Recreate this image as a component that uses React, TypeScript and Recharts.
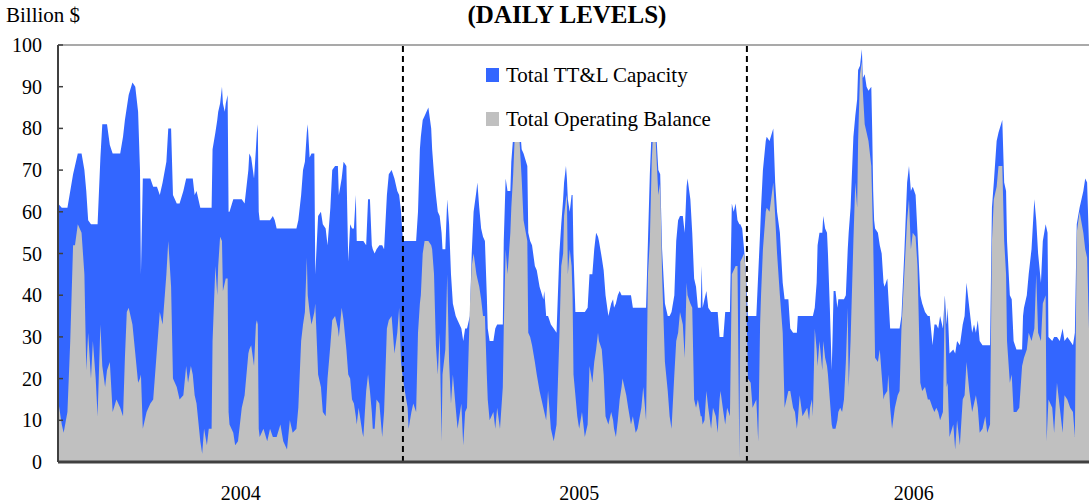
import { AreaChart, Area, XAxis, YAxis, ReferenceLine } from "recharts";

// calendar day since 1 Jan 2004 for each reading
const days = [
  0, 4, 6, 10, 13, 16, 18, 21, 25, 28, 30, 32, 35, 37, 40, 42, 45, 47, 50, 52,
  55, 58, 62, 66, 69, 71, 73, 75, 79, 82, 85, 87, 88, 90, 94, 98, 101, 105, 108, 111,
  115, 117, 120, 122, 126, 129, 133, 136, 138, 141, 143, 145, 147, 151, 153, 155, 158, 160, 163, 164,
  167, 169, 170, 172, 174, 175, 177, 178, 180, 181, 182, 186, 188, 191, 195, 198, 202, 203, 205, 208,
  210, 211, 212, 213, 214, 218, 222, 225, 228, 230, 232, 236, 239, 243, 246, 249, 253, 255, 258, 260,
  262, 264, 265, 267, 269, 272, 273, 276, 279, 281, 284, 286, 289, 291, 294, 297, 298, 301, 303, 306,
  308, 310, 312, 314, 316, 317, 319, 323, 324, 327, 329, 331, 333, 334, 336, 338, 341, 344, 346, 349,
  351, 354, 357, 360, 362, 364, 366, 368, 371, 372, 375, 377, 380, 382, 384, 385, 387, 389, 393, 396,
  397, 399, 401, 403, 405, 407, 408, 411, 413, 415, 417, 419, 422, 424, 428, 430, 432, 434, 437, 439,
  441, 444, 445, 447, 449, 451, 453, 455, 456, 458, 462, 464, 466, 469, 472, 473, 475, 477, 480, 481,
  483, 485, 487, 489, 491, 492, 494, 498, 499, 501, 503, 506, 508, 511, 515, 516, 518, 520, 523, 526,
  529, 532, 534, 536, 537, 539, 540, 541, 543, 545, 546, 547, 549, 551, 553, 556, 559, 562, 564, 567,
  569, 571, 573, 574, 577, 579, 581, 584, 587, 589, 590, 592, 594, 596, 598, 599, 603, 605, 608, 610,
  613, 615, 619, 621, 624, 626, 628, 630, 632, 634, 637, 639, 641, 644, 647, 649, 651, 654, 656, 658,
  660, 663, 665, 667, 668, 671, 673, 675, 677, 679, 682, 683, 684, 686, 688, 690, 693, 695, 698, 700,
  702, 703, 706, 708, 710, 713, 715, 717, 719, 721, 723, 724, 726, 728, 730, 732, 735, 737, 741, 743,
  745, 746, 748, 751, 752, 755, 759, 761, 763, 766, 769, 771, 775, 777, 780, 782, 784, 785, 787, 790,
  795, 797, 798, 800, 801, 803, 805, 806, 808, 811, 812, 814, 816, 817, 819, 821, 822, 823, 825, 827,
  828, 830, 832, 834, 836, 838, 839, 841, 844, 846, 848, 849, 851, 853, 854, 856, 858, 860, 863, 864,
  865, 866, 867, 870, 872, 874, 876, 877, 880, 881, 883, 885, 888, 891, 893, 895, 898, 901, 903, 905,
  907, 910, 912, 915, 917, 920, 923, 925, 928, 930, 932, 934, 936, 939, 941, 943, 944, 946, 950, 952,
  954, 957, 960, 962, 964, 967, 970, 972, 974, 976, 978, 981, 984, 986, 989, 991, 993, 996, 998, 1002,
  1004, 1006, 1007, 1010, 1012, 1014, 1017, 1020, 1023, 1024, 1025, 1028, 1030, 1033, 1036, 1038, 1040, 1043, 1045, 1048,
  1049, 1050, 1051, 1055, 1057, 1060, 1063, 1066, 1068, 1071, 1074, 1077, 1079, 1081, 1084, 1088, 1090, 1092, 1094,
];

const capacity = [
  62, 61, 61, 61, 65, 69, 71, 74, 74, 70, 65, 58, 57, 57, 57, 57, 73, 81, 81, 81,
  76, 74, 74, 74, 78, 82, 85, 88, 91, 90, 84, 70, 45, 68, 68, 68, 66, 66, 64, 67,
  72, 80, 80, 64, 62, 62, 65, 68, 68, 68, 68, 64, 65, 61, 61, 61, 61, 61, 61, 75,
  79, 82, 84, 86, 90, 86, 84, 86, 88, 60, 60, 63, 63, 63, 63, 62, 70, 74, 73, 68,
  75, 79, 81, 60, 58, 58, 58, 58, 59, 58, 56, 56, 56, 56, 56, 56, 56, 58, 64, 70,
  72, 79, 81, 73, 74, 74, 45, 59, 60, 57, 56, 52, 61, 70, 71, 71, 64, 68, 72, 71,
  48, 57, 56, 56, 64, 53, 53, 53, 53, 52, 63, 63, 52, 51, 50, 51, 52, 52, 51, 64,
  69, 70, 68, 65, 64, 60, 53, 53, 53, 53, 53, 53, 53, 60, 75, 78, 82, 83, 85, 80,
  75, 69, 64, 60, 59, 55, 51, 51, 63, 57, 45, 38, 35, 34, 32, 29, 32, 32, 35, 50,
  60, 65, 67, 61, 56, 54, 53, 40, 32, 29, 29, 32, 33, 33, 33, 53, 68, 65, 65, 72,
  78, 84, 86, 84, 78, 75, 74, 71, 55, 53, 52, 47, 46, 42, 39, 41, 35, 35, 33, 32,
  31, 50, 57, 63, 67, 71, 68, 63, 60, 64, 64, 50, 36, 36, 36, 36, 36, 37, 45, 45,
  51, 55, 54, 53, 49, 46, 40, 35, 38, 39, 37, 38, 40, 41, 40, 40, 40, 40, 40, 37,
  37, 37, 37, 37, 37, 53, 69, 80, 84, 82, 70, 69, 51, 38, 35, 35, 36, 40, 53, 58,
  59, 59, 55, 66, 68, 63, 55, 44, 42, 37, 37, 47, 37, 39, 41, 37, 36, 36, 36, 36,
  30, 30, 30, 36, 36, 36, 62, 60, 62, 58, 57, 57, 56, 51, 45, 35, 35, 35, 35, 45,
  55, 61, 70, 77, 78, 77, 80, 67, 60, 55, 43, 39, 39, 32, 31, 31, 31, 35, 35, 35,
  35, 35, 35, 35, 35, 37, 43, 52, 55, 55, 59, 56, 55, 50, 37, 22, 31, 41, 41, 37,
  39, 39, 39, 39, 40, 51, 55, 61, 78, 83, 87, 94, 95, 99, 92, 93, 90, 89, 90, 79,
  65, 58, 56, 55, 52, 50, 43, 42, 44, 40, 32, 32, 32, 32, 32, 35, 50, 67, 71, 65,
  66, 64, 55, 40, 38, 36, 35, 35, 28, 33, 33, 32, 35, 32, 40, 33, 37, 26, 27, 26,
  29, 28, 33, 35, 43, 37, 31, 33, 31, 34, 29, 28, 28, 28, 28, 61, 67, 77, 79, 82,
  67, 65, 53, 40, 39, 29, 27, 27, 27, 35, 37, 40, 45, 51, 63, 58, 50, 43, 53, 57,
  56, 55, 30, 29, 30, 30, 29, 32, 29, 30, 29, 28, 31, 57, 61, 65, 68, 67, 52,
];

const balance = [
  15, 9, 7, 12, 29, 52, 52, 57, 55, 45, 22, 31, 20, 29, 20, 11, 33, 23, 18, 22,
  24, 12, 15, 13, 11, 25, 36, 37, 33, 26, 19, 20, 21, 8, 12, 14, 15, 27, 36, 33,
  45, 53, 42, 20, 18, 15, 16, 23, 19, 23, 21, 16, 14, 5, 2, 8, 4, 8, 8, 29,
  47, 40, 47, 54, 53, 41, 43, 44, 44, 12, 9, 7, 4, 5, 13, 16, 26, 27, 28, 23,
  33, 34, 33, 8, 6, 8, 5, 8, 6, 6, 6, 9, 5, 3, 10, 7, 8, 13, 29, 33,
  36, 49, 40, 36, 33, 36, 38, 21, 18, 12, 11, 20, 28, 34, 35, 32, 30, 37, 34, 27,
  21, 20, 15, 14, 11, 9, 13, 7, 6, 17, 21, 17, 12, 8, 8, 15, 14, 6, 12, 32,
  34, 35, 26, 31, 37, 24, 20, 17, 13, 8, 12, 14, 12, 31, 38, 40, 50, 53, 53, 52,
  51, 45, 28, 21, 31, 5, 21, 27, 45, 24, 14, 21, 13, 8, 14, 4, 12, 13, 37, 47,
  50, 45, 44, 42, 39, 35, 35, 21, 15, 10, 12, 8, 13, 8, 18, 32, 51, 45, 55, 61,
  69, 80, 82, 80, 72, 68, 58, 53, 31, 30, 28, 24, 21, 17, 13, 12, 10, 17, 8, 5,
  9, 30, 47, 50, 59, 63, 64, 45, 51, 47, 40, 21, 16, 11, 8, 12, 6, 9, 23, 19,
  24, 27, 31, 29, 27, 21, 11, 9, 12, 10, 8, 6, 10, 15, 18, 20, 16, 13, 9, 11,
  7, 8, 13, 18, 10, 45, 53, 72, 82, 78, 64, 67, 45, 24, 17, 11, 8, 21, 29, 31,
  36, 33, 25, 43, 40, 38, 37, 15, 13, 15, 11, 11, 9, 10, 17, 13, 8, 13, 11, 7,
  15, 17, 12, 9, 13, 11, 45, 46, 47, 47, 1, 48, 49, 50, 45, 20, 19, 13, 15, 5,
  33, 40, 51, 60, 61, 60, 67, 59, 50, 40, 31, 13, 17, 17, 13, 12, 8, 10, 16, 11,
  13, 10, 13, 15, 11, 32, 27, 23, 29, 22, 29, 25, 23, 21, 15, 9, 8, 8, 8, 10,
  12, 13, 12, 15, 24, 37, 18, 29, 53, 67, 61, 77, 93, 96, 89, 81, 79, 77, 71, 62,
  53, 40, 25, 24, 27, 21, 15, 16, 17, 21, 13, 8, 13, 16, 17, 32, 45, 58, 63, 51,
  55, 54, 47, 19, 17, 18, 15, 15, 13, 12, 13, 12, 10, 12, 40, 18, 19, 6, 9, 3,
  10, 4, 15, 16, 24, 17, 12, 14, 16, 13, 7, 8, 11, 7, 9, 53, 63, 66, 71, 71,
  53, 45, 29, 19, 21, 12, 12, 13, 23, 24, 25, 27, 31, 29, 32, 45, 31, 29, 38, 40,
  5, 10, 15, 13, 7, 19, 13, 7, 16, 15, 13, 12, 6, 55, 60, 55, 51, 49, 32,
];

const yearStarts = [366, 731];
const yearLabelDays = [194, 553, 908];
const yearLabels = ["2004", "2005", "2006"];
const valueTicks = [0, 10, 20, 30, 40, 50, 60, 70, 80, 90, 100];

const data = days.map((d, i) => ({ day: d, cap: capacity[i], bal: balance[i] }));

const FONT = '"Liberation Serif", "Times New Roman", serif';

function ValueTick(props: any) {
  const { x, y, payload } = props;
  return (
    <g>
      <line x1={x + 16} x2={x + 21} y1={y} y2={y} stroke="#404040" strokeWidth={1.5} />
      <text x={x} y={y} dy="0.35em" textAnchor="end" fill="#000" style={{ fontFamily: FONT, fontSize: 20 }}>
        {payload.value}
      </text>
    </g>
  );
}

function YearTick(props: any) {
  const { x, y, payload } = props;
  return (
    <text x={x} y={y} dy="0.71em" textAnchor="middle" fill="#000" style={{ fontFamily: FONT, fontSize: 20 }}>
      {yearLabels[yearLabelDays.indexOf(payload.value)]}
    </text>
  );
}

export default function App() {
  return (
    <div style={{ position: "absolute", left: 0, top: 0, width: 1089, height: 504, background: "#fff", overflow: "hidden" }}>
      <AreaChart width={1089} height={504} data={data} margin={{ top: 45, right: 0, bottom: 0, left: 0 }}>
        <Area type="linear" dataKey="cap" stroke="none" fill="#3366FF" fillOpacity={1} dot={false} activeDot={false} isAnimationActive={false} />
        <Area type="linear" dataKey="bal" stroke="none" fill="#C0C0C0" fillOpacity={1} dot={false} activeDot={false} isAnimationActive={false} />
        <ReferenceLine y={100} stroke="#8c8c8c" strokeWidth={1.5} />
        {yearStarts.map((d) => (
          <ReferenceLine key={d} x={d} stroke="#000" strokeWidth={2} strokeDasharray="6 4" />
        ))}
        <XAxis
          type="number"
          dataKey="day"
          domain={[0, 1094]}
          ticks={yearLabelDays}
          interval={0}
          height={42}
          tickSize={0}
          tickMargin={24}
          tickLine={false}
          axisLine={{ stroke: "#404040", strokeWidth: 3 }}
          tick={<YearTick />}
        />
        <YAxis
          domain={[0, 100]}
          ticks={valueTicks}
          interval={0}
          width={58}
          tickSize={0}
          tickMargin={16}
          tickLine={false}
          axisLine={{ stroke: "#404040", strokeWidth: 2 }}
          tick={<ValueTick />}
        />
      </AreaChart>

      <div style={{ position: "absolute", left: 6, top: 5, fontFamily: FONT, fontSize: 21, lineHeight: "21px", color: "#000", whiteSpace: "nowrap" }}>
        Billion $
      </div>
      <div style={{ position: "absolute", left: 367, top: 2, width: 400, textAlign: "center", fontFamily: FONT, fontSize: 25, lineHeight: "25px", fontWeight: "bold", color: "#000" }}>
        (DAILY LEVELS)
      </div>

      <div style={{ position: "absolute", left: 478, top: 55, width: 252, height: 87, background: "#fff" }}>
        <div style={{ position: "absolute", left: 8, top: 13, width: 13, height: 14, background: "#3366FF" }} />
        <div style={{ position: "absolute", left: 28, top: 10, fontFamily: FONT, fontSize: 21, lineHeight: "21px", whiteSpace: "nowrap" }}>
          Total TT&amp;L Capacity
        </div>
        <div style={{ position: "absolute", left: 8, top: 57, width: 13, height: 14, background: "#C0C0C0" }} />
        <div style={{ position: "absolute", left: 28, top: 54, fontFamily: FONT, fontSize: 21, lineHeight: "21px", whiteSpace: "nowrap" }}>
          Total Operating Balance
        </div>
      </div>
    </div>
  );
}
